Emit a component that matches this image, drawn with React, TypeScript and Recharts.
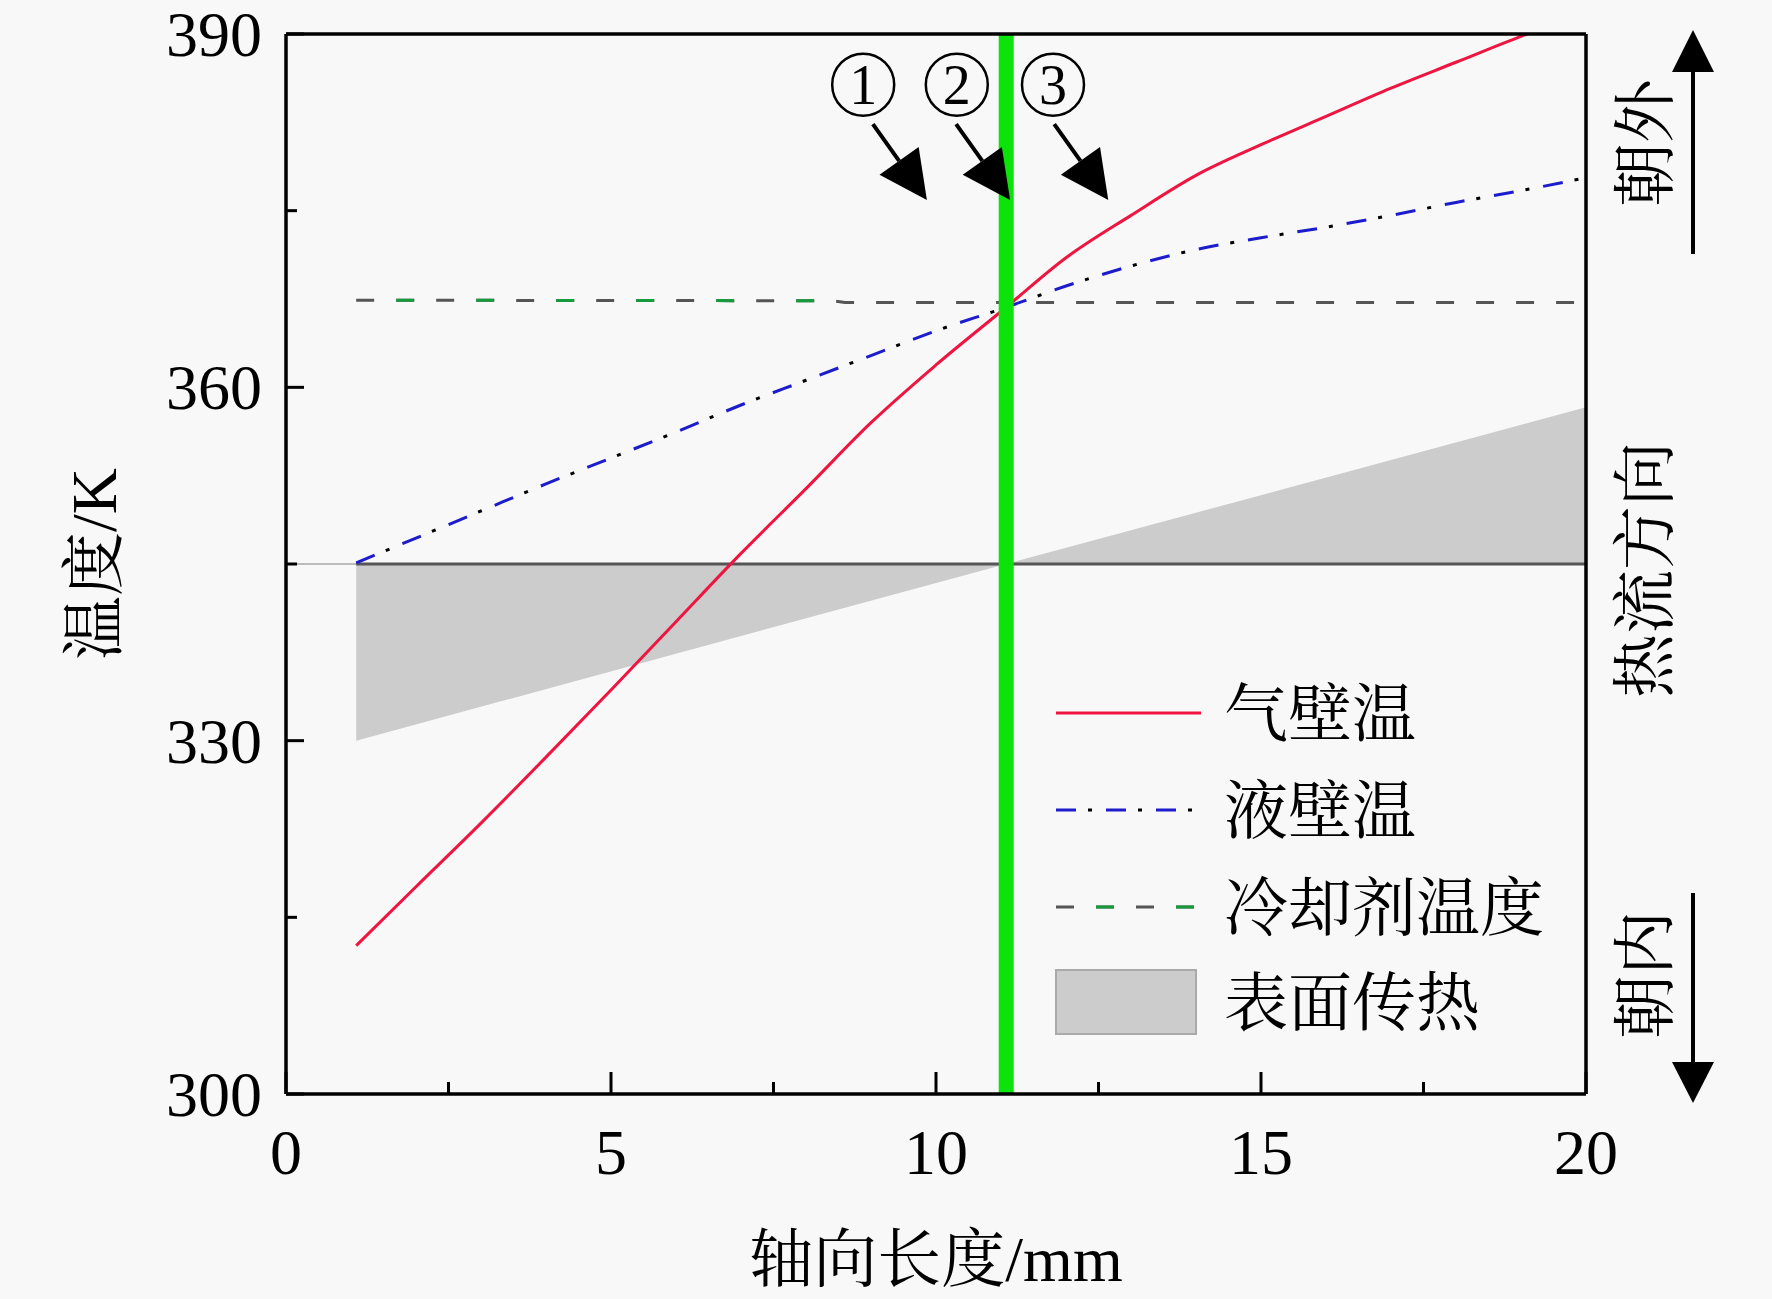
import React from 'react';
import {
  Area,
  ComposedChart,
  Legend,
  Line,
  ReferenceDot,
  ReferenceLine,
  XAxis,
  YAxis,
} from 'recharts';

// axial position (mm) of the sampled wall temperatures
const wallX = [1.08, 2, 3, 4, 5, 6, 7, 8, 9, 10, 11.08, 12, 13, 14, 15, 16, 17, 18, 19, 20];
const gasWall = [312.6, 317.6, 323.0, 328.6, 334.3, 340.1, 345.9, 351.4, 357.0, 361.9, 366.8, 371.0, 374.6, 378.0, 380.6, 383.0, 385.4, 387.6, 389.8, 391.8];
const liquidWall = [345.1, 347.2, 349.5, 351.8, 354.0, 356.2, 358.5, 360.6, 362.7, 364.8, 366.8, 368.6, 370.3, 371.7, 372.7, 373.6, 374.6, 375.7, 376.7, 377.8];

const coolantX = [1.08, 8.4, 8.6, 20];
const coolantT = [367.4, 367.35, 367.2, 367.2];
const coolantGreenX = [1.08, 8.4];
const coolantGreenT = [367.4, 367.35];

const heatX = [1.08, 11.08, 20];
const heatT = [330.0, 345.0, 358.3];
const baseT = 345;
const baseLightX = [0, 1.08];
const baseDarkX = [1.08, 20];

const interfaceX = 11.08;

const xTicks = [0, 2.5, 5, 7.5, 10, 12.5, 15, 17.5, 20];
const yTicks = [300, 315, 330, 345, 360, 375, 390];

const calloutLabels = ['1', '2', '3'];
const calloutX = [8.88, 10.32, 11.8];
const calloutT = 385.7;
const arrowTipX = [9.86, 11.14, 12.65];
const arrowTipT = 375.9;

const legendNames = ['气壁温', '液壁温', '冷却剂温度', '表面传热'];

const gasData = wallX.map((x, i) => ({ x, t: gasWall[i] }));
const liquidData = wallX.map((x, i) => ({ x, t: liquidWall[i] }));
const coolantData = coolantX.map((x, i) => ({ x, t: coolantT[i] }));
const coolantGreenData = coolantGreenX.map((x, i) => ({ x, t: coolantGreenT[i] }));
const heatData = heatX.map((x, i) => ({ x, range: [baseT, heatT[i]] }));
const baseLight = baseLightX.map((x) => ({ x, t: baseT }));
const baseDark = baseDarkX.map((x) => ({ x, t: baseT }));

const RED = '#ee1540';
const BLUE = '#1c1ccc';
const GRAY = '#555555';
const GREEN_DASH = '#169b3c';
const serif = '"Liberation Serif", "Times New Roman", serif';
const cjk = '"Liberation Serif", "Noto Serif CJK SC", "Noto Sans CJK SC", serif';

const XTick = (props: any) => {
  const { x, y, payload } = props;
  const v = payload.value;
  const major = v % 5 === 0;
  return (
    <g>
      <line x1={x} x2={x} y1={y} y2={y - (major ? 22 : 12)} stroke='#000' strokeWidth={3} />
      {major && (
        <text x={x} y={y + 80} textAnchor='middle' fontSize={64} fontFamily={serif} fill='#000'>
          {v}
        </text>
      )}
    </g>
  );
};

const YTick = (props: any) => {
  const { x, y, payload } = props;
  const v = payload.value;
  const major = v % 30 === 0;
  return (
    <g>
      <line x1={x} x2={x + (major ? 18 : 11)} y1={y} y2={y} stroke='#000' strokeWidth={3} />
      {major && (
        <text x={x - 24} y={y + 22} textAnchor='end' fontSize={64} fontFamily={serif} fill='#000'>
          {v}
        </text>
      )}
    </g>
  );
};

const XTitle = (props: any) => {
  const vb = props.viewBox;
  return (
    <text x={vb.x + vb.width / 2} y={vb.y + 187} textAnchor='middle' fontSize={64} fontFamily={cjk} fill='#000'>
      轴向长度/mm
    </text>
  );
};

const YTitle = (props: any) => {
  const vb = props.viewBox;
  const cy = vb.y + vb.height / 2;
  return (
    <text
      transform={`translate(116,${cy}) rotate(-90)`}
      textAnchor='middle'
      fontSize={64}
      fontFamily={cjk}
      fill='#000'
    >
      温度/K
    </text>
  );
};

const Callout = (label: string) => (props: any) => {
  const { cx, cy } = props;
  return (
    <g>
      <circle cx={cx} cy={cy} r={31} fill='none' stroke='#000' strokeWidth={2.5} />
      <text x={cx} y={cy + 19} textAnchor='middle' fontSize={56} fontFamily={serif} fill='#000'>
        {label}
      </text>
    </g>
  );
};

const Arrow = (props: any) => {
  const { cx, cy } = props;
  const sx = cx - 54;
  const sy = cy - 76;
  const len = Math.hypot(cx - sx, cy - sy);
  const ux = (cx - sx) / len;
  const uy = (cy - sy) / len;
  const hl = 48;
  const hw = 24;
  const bx = cx - ux * hl;
  const by = cy - uy * hl;
  return (
    <g>
      <line x1={sx} y1={sy} x2={bx} y2={by} stroke='#000' strokeWidth={4} />
      <polygon
        points={`${cx},${cy} ${bx - uy * hw},${by + ux * hw} ${bx + uy * hw},${by - ux * hw}`}
        fill='#000'
      />
    </g>
  );
};

const LegendBox = () => {
  const rowY = [53, 150, 247, 342];
  const textStyle = { fontSize: 64, fontFamily: cjk, fill: '#000' };
  return (
    <svg width={560} height={400}>
      <line x1={16} x2={161} y1={rowY[0]} y2={rowY[0]} stroke={RED} strokeWidth={3} />
      <line x1={16} x2={161} y1={rowY[1]} y2={rowY[1]} stroke={BLUE} strokeWidth={3} strokeDasharray='20 30' />
      <line x1={16} x2={161} y1={rowY[1]} y2={rowY[1]} stroke='#000' strokeWidth={3} strokeDasharray='4 46' strokeDashoffset={18} />
      <line x1={16} x2={161} y1={rowY[2]} y2={rowY[2]} stroke={GRAY} strokeWidth={3} strokeDasharray='18 22' />
      <line x1={16} x2={161} y1={rowY[2]} y2={rowY[2]} stroke={GREEN_DASH} strokeWidth={3} strokeDasharray='18 62' strokeDashoffset={40} />
      <rect x={16} y={rowY[3] - 32} width={140} height={64} fill='#cccccc' stroke='#aaaaaa' strokeWidth={2} />
      {legendNames.map((n, i) => (
        <text key={n} x={184} y={rowY[i] + 23} {...textStyle}>
          {n}
        </text>
      ))}
    </svg>
  );
};

function App() {
  return (
    <div style={{ position: 'absolute', left: 0, top: 0, width: 1772, height: 1299, background: '#f8f8f8' }}>
      <ComposedChart
        width={1772}
        height={1299}
        margin={{ top: 34, right: 186, bottom: 85, left: 136 }}
      >
        <XAxis
          type='number'
          dataKey='x'
          domain={[0, 20]}
          ticks={xTicks}
          allowDataOverflow
          height={120}
          tickSize={0}
          tickMargin={0}
          tickLine={false}
          axisLine={{ stroke: '#000', strokeWidth: 3.5 }}
          tick={<XTick />}
          interval={0}
          label={<XTitle />}
        />
        <YAxis
          type='number'
          domain={[300, 390]}
          ticks={yTicks}
          allowDataOverflow
          width={150}
          tickSize={0}
          tickMargin={0}
          tickLine={false}
          axisLine={{ stroke: '#000', strokeWidth: 3.5 }}
          tick={<YTick />}
          interval={0}
          label={<YTitle />}
        />
        <Area
          data={heatData}
          dataKey='range'
          type='linear'
          fill='#cccccc'
          fillOpacity={1}
          stroke='none'
          isAnimationActive={false}
          legendType='none'
        />
        <Line data={baseLight} dataKey='t' stroke='#bbbbbb' strokeWidth={2} dot={false} isAnimationActive={false} legendType='none' />
        <Line data={baseDark} dataKey='t' stroke={GRAY} strokeWidth={3} dot={false} isAnimationActive={false} legendType='none' />
        <Line
          data={coolantData}
          dataKey='t'
          stroke={GRAY}
          strokeWidth={3}
          strokeDasharray='18 22'
          dot={false}
          isAnimationActive={false}
          legendType='none'
        />
        <Line
          data={coolantGreenData}
          dataKey='t'
          stroke={GREEN_DASH}
          strokeWidth={3}
          strokeDasharray='18 62'
          strokeDashoffset={40}
          dot={false}
          isAnimationActive={false}
          legendType='none'
        />
        <Line
          data={liquidData}
          dataKey='t'
          type='monotone'
          stroke={BLUE}
          strokeWidth={3}
          strokeDasharray='20 30'
          dot={false}
          isAnimationActive={false}
          legendType='none'
        />
        <Line
          data={liquidData}
          dataKey='t'
          type='monotone'
          stroke='#000'
          strokeWidth={3}
          strokeDasharray='4 46'
          strokeDashoffset={18}
          dot={false}
          isAnimationActive={false}
          legendType='none'
        />
        <Line
          data={gasData}
          dataKey='t'
          type='monotone'
          stroke={RED}
          strokeWidth={3}
          dot={false}
          isAnimationActive={false}
          legendType='none'
        />
        <ReferenceLine x={interfaceX} stroke='#0be30b' strokeWidth={15} />
        <ReferenceLine y={390} stroke='#000' strokeWidth={3.5} />
        <ReferenceLine x={20} stroke='#000' strokeWidth={3.5} />
        {calloutLabels.map((l, i) => (
          <ReferenceDot key={'c' + l} x={calloutX[i]} y={calloutT} r={30} ifOverflow='visible' shape={Callout(l)} />
        ))}
        {arrowTipX.map((x, i) => (
          <ReferenceDot key={'a' + i} x={x} y={arrowTipT} r={1} ifOverflow='visible' shape={Arrow} />
        ))}
        <Legend
          layout='horizontal'
          verticalAlign='middle'
          align='center'
          content={<LegendBox />}
          wrapperStyle={{ position: 'absolute', left: 1040, top: 660, width: 560, height: 400 }}
        />
      </ComposedChart>
      <svg
        width={1772}
        height={1299}
        style={{ position: 'absolute', left: 0, top: 0, pointerEvents: 'none' }}
      >
        <g fontSize={64} fontFamily={cjk} fill='#000' textAnchor='middle'>
          <text transform='translate(1667,143) rotate(-90)'>朝外</text>
          <text transform='translate(1667,570) rotate(-90)'>热流方向</text>
          <text transform='translate(1667,975) rotate(-90)'>朝内</text>
        </g>
        <line x1={1693} x2={1693} y1={254} y2={68} stroke='#000' strokeWidth={4} />
        <polygon points='1672,72 1714,72 1693,30' fill='#000' />
        <line x1={1693} x2={1693} y1={893} y2={1064} stroke='#000' strokeWidth={4} />
        <polygon points='1672,1062 1714,1062 1693,1103' fill='#000' />
      </svg>
    </div>
  );
}

export default App;
